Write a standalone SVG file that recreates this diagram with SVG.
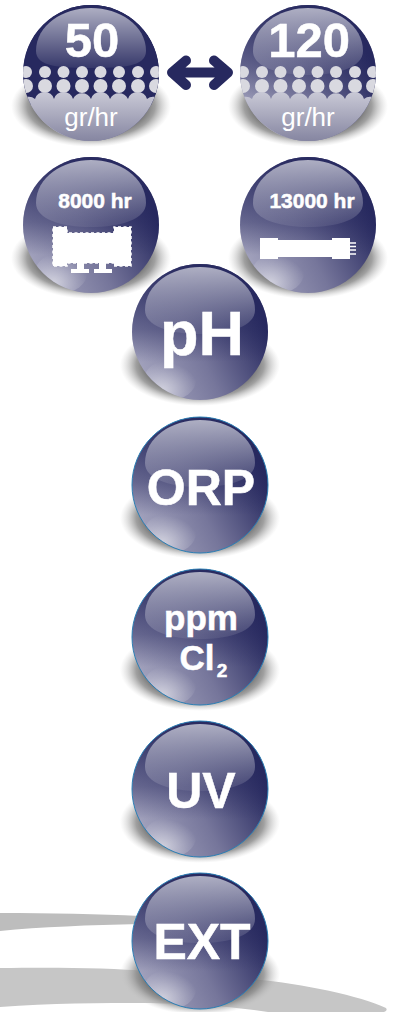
<svg xmlns="http://www.w3.org/2000/svg" xmlns:xlink="http://www.w3.org/1999/xlink" width="393" height="1012" viewBox="0 0 393 1012">
<style>
text{font-family:"Liberation Sans",Arial,sans-serif;font-weight:700;fill:#fff;stroke:#fff;stroke-width:.5;text-anchor:middle}
.n{font-weight:400;stroke-width:0}
.dot{fill:#d9d9e0}
.ar{fill:none;stroke:#27295f;stroke-width:10;stroke-linecap:round;stroke-linejoin:round}
.rim{fill:none;stroke:#2b7fb5;stroke-width:1}
</style>
<defs>
<linearGradient id="body" gradientUnits="userSpaceOnUse" x1="-62" y1="56" x2="66" y2="-6">
<stop offset="0" stop-color="#a9a9c2"/><stop offset="0.5" stop-color="#76769b"/><stop offset="1" stop-color="#27295f"/>
</linearGradient>
<linearGradient id="vert" x1="0" y1="0" x2="0" y2="1">
<stop offset="0" stop-color="#27295f" stop-opacity="0.95"/><stop offset="0.48" stop-color="#27295f" stop-opacity="0.45"/><stop offset="0.72" stop-color="#27295f" stop-opacity="0"/>
</linearGradient>
<linearGradient id="gloss" x1="0" y1="0" x2="0" y2="1">
<stop offset="0" stop-color="#fff" stop-opacity="0.62"/><stop offset="1" stop-color="#fff" stop-opacity="0.07"/>
</linearGradient>
<radialGradient id="spot" cx="0.35" cy="0.75" r="0.7">
<stop offset="0" stop-color="#fff" stop-opacity="0.55"/><stop offset="0.65" stop-color="#fff" stop-opacity="0.18"/><stop offset="1" stop-color="#fff" stop-opacity="0"/>
</radialGradient>
<radialGradient id="shadow" cx="0.5" cy="0.5" r="0.5">
<stop offset="0.55" stop-color="#3f3f3f"/><stop offset="0.8" stop-color="#8f8f8f" stop-opacity="0.85"/><stop offset="1" stop-color="#c8c8c8" stop-opacity="0"/>
</radialGradient>
<linearGradient id="floor" x1="0" y1="0" x2="0" y2="1">
<stop offset="0" stop-color="#c9c9d6"/><stop offset="1" stop-color="#83839f"/>
</linearGradient>
<clipPath id="ball"><circle cx="0" cy="0" r="68"/></clipPath>
<g id="sphere">
<ellipse cx="0" cy="33" rx="80" ry="41" fill="url(#shadow)"/>
<circle r="68" fill="url(#body)"/>
<circle r="68" fill="url(#vert)"/>
<path d="M-55,-22C-55,-48 -28,-65 0,-65C28,-65 55,-48 55,-22C55,-6 30,2 0,2C-30,2 -55,-6 -55,-22Z" fill="url(#gloss)"/>
<ellipse cx="-30" cy="48" rx="26" ry="20" fill="url(#spot)" clip-path="url(#ball)"/>
</g>
<g id="dots" clip-path="url(#ball)">
<g class="dot">
<circle cx="-65" cy="-1" r="6"/><circle cx="-46" cy="-1" r="6"/><circle cx="-27.500" cy="-1" r="6"/><circle cx="-9" cy="-1" r="6"/><circle cx="9.500" cy="-1" r="6"/><circle cx="28" cy="-1" r="6"/><circle cx="47" cy="-1" r="6"/><circle cx="65" cy="-1" r="6"/>
<circle cx="-65" cy="13" r="7"/><circle cx="-46" cy="13" r="7"/><circle cx="-27.500" cy="13" r="7"/><circle cx="-9" cy="13" r="7"/><circle cx="9.500" cy="13" r="7"/><circle cx="28" cy="13" r="7"/><circle cx="47" cy="13" r="7"/><circle cx="65" cy="13" r="7"/>
</g>
<path d="M-70,70V28A9.300,9.300 0 0 1 -56,26A10,10 0 0 1 -37,26A10,10 0 0 1 -18,26A10,10 0 0 1 0,26A10,10 0 0 1 19,26A10,10 0 0 1 37,26A10,10 0 0 1 56,26A9.300,9.300 0 0 1 70,28V70Z" fill="url(#floor)"/>
</g>
</defs>

<g id="backdrop">
<path d="M0,913C50,913 100,914 140,916L140,924C90,925 40,927 0,931Z" fill="#bdbdbd"/>
<path d="M0,968C60,967 110,968 150,971C190,973 230,976 250,979C300,983 360,996 386,1008Q388,1011 384,1012L268,1012C230,1006 190,1004 150,1003C100,1003 50,1003 0,1007Z" fill="#c6c6c6"/>
</g>

<g id="node-50" transform="translate(91,73)">
<use href="#sphere" xlink:href="#sphere"/>
<path d="M-68,0A68,68 0 0 1 68,0V32H-68Z" fill="#27295f" clip-path="url(#ball)"/>
<path d="M-55,-22C-55,-48 -28,-65 0,-65C28,-65 55,-48 55,-22C55,-6 30,-5 0,-5C-30,-5 -55,-6 -55,-22Z" fill="url(#gloss)"/>
<use href="#dots" xlink:href="#dots"/>
<text x="1" y="-16.500" font-size="49">50</text>
<text class="n" x="0" y="53" font-size="26">gr/hr</text>
</g>
<g id="node-120" transform="translate(308,73)">
<use href="#sphere" xlink:href="#sphere"/>
<use href="#dots" xlink:href="#dots"/>
<text x="1" y="-16.500" font-size="49">120</text>
<text class="n" x="0" y="53" font-size="26">gr/hr</text>
</g>
<g id="connectors">
<path class="ar" d="M173,72.500H227M186,60.500L172,72.500L186,85M214,60.500L228,72.500L214,85"/>
</g>
<g id="node-8000" transform="translate(91,225)">
<use href="#sphere" xlink:href="#sphere"/>
<text x="4" y="-17" font-size="21">8000 hr</text>
<path d="M-38,2H-24V8H23V2H40V41H23V38H-24V41H-38Z" fill="#fff" stroke="#fff" stroke-width="1.500" stroke-dasharray="3 2.500"/>
<path d="M-14,38H-7V44H-2V48H-20V44H-14ZM8,38H15V44H21V48H3V44H8Z" fill="#fff"/>
</g>
<g id="node-13000" transform="translate(308,225)">
<use href="#sphere" xlink:href="#sphere"/>
<text x="4" y="-17" font-size="21">13000 hr</text>
<path d="M-48,13H-30V15H24V13H42V34H24V32H-30V34H-48Z" fill="#fff"/>
<path d="M42,18H48M42,21.500H48M42,25H48M42,29H48" stroke="#fff" stroke-width="1.500"/>
</g>
<g id="node-ph" transform="translate(200,332)">
<use href="#sphere" xlink:href="#sphere"/>
<text x="2" y="23" font-size="63">pH</text>
</g>
<g id="node-orp" transform="translate(200,485)">
<use href="#sphere" xlink:href="#sphere"/>
<circle r="68" class="rim"/>
<text x="1" y="20" font-size="50">ORP</text>
</g>
<g id="node-ppm" transform="translate(200,637)">
<use href="#sphere" xlink:href="#sphere"/>
<circle r="68" class="rim"/>
<text x="1" y="-7" font-size="35">ppm</text>
<text x="-3" y="33" font-size="35">Cl</text>
<text x="22" y="40" font-size="19">2</text>
</g>
<g id="node-uv" transform="translate(200,789)">
<use href="#sphere" xlink:href="#sphere"/>
<circle r="68" class="rim"/>
<text x="1" y="19" font-size="50">UV</text>
</g>
<g id="node-ext" transform="translate(200,941)">
<use href="#sphere" xlink:href="#sphere"/>
<circle r="68" class="rim"/>
<text x="2" y="18" font-size="50">EXT</text>
</g>
</svg>
